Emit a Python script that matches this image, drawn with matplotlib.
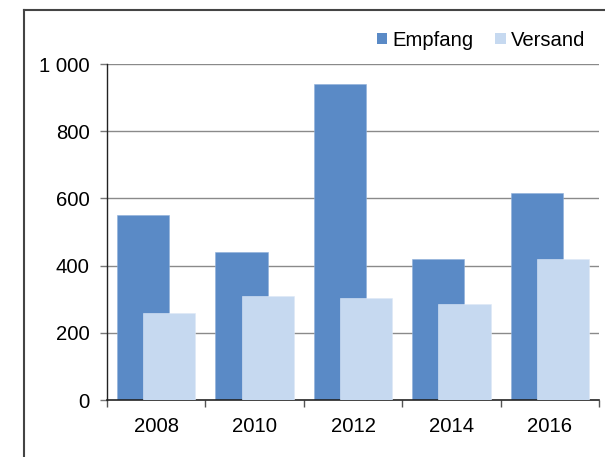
import matplotlib
matplotlib.use("Agg")
import matplotlib.pyplot as plt
from matplotlib.patches import Patch
from matplotlib.lines import Line2D
import numpy as np

years = ["2008", "2010", "2012", "2014", "2016"]
empfang = [550, 440, 940, 420, 615]
versand = [260, 310, 305, 285, 420]
series_names = ["Empfang", "Versand"]
yticks = [0, 200, 400, 600, 800, 1000]
ytick_labels = ["0", "200", "400", "600", "800", "1 000"]

c_emp = "#5A8AC6"
c_ver = "#C6D9F0"

plt.rcParams["font.family"] = ["Liberation Sans", "DejaVu Sans"]
fs = 14.6

fig = plt.figure(figsize=(6.05, 4.57), dpi=100)
ax = fig.add_axes([107/605, (457-400)/457, (599-107)/605, (400-64)/457])

x = np.arange(len(years))
w = 0.53
off = 0.133
ax.bar(x - off, empfang, width=w, color=c_emp, edgecolor="#8FB0DA", linewidth=0.4, zorder=2)
ax.bar(x + off, versand, width=w, color=c_ver, edgecolor="#DDE8F6", linewidth=0.4, zorder=3)

ax.set_xlim(-0.5, len(years) - 0.5)
ax.set_ylim(0, 1000)
ax.set_yticks(yticks)
ax.set_yticklabels(ytick_labels, fontsize=fs)
ax.set_xticks(x)
ax.set_xticklabels(years, fontsize=fs)
ax.set_xticks(np.arange(len(years) + 1) - 0.5, minor=True)
ax.tick_params(axis="x", which="major", length=0, pad=12.5)
ax.tick_params(axis="x", which="minor", length=5, width=1, color="#555555", direction="out")
ax.tick_params(axis="y", length=5, width=1, color="#777777", direction="out", pad=7.5)

for yv in yticks[1:]:
    ax.axhline(yv, color="#8A8A8A", linewidth=1.0, zorder=1)

for s in ["top", "right"]:
    ax.spines[s].set_visible(False)
ax.spines["left"].set_color("#222222")
ax.spines["left"].set_linewidth(1.0)
ax.spines["bottom"].set_color("#222222")
ax.spines["bottom"].set_linewidth(1.2)

handles = [Patch(facecolor=c_emp, edgecolor="none"), Patch(facecolor=c_ver, edgecolor="none")]
fig.legend(handles, series_names, loc="center right",
           bbox_to_anchor=(585/605, (457-40)/457), bbox_transform=fig.transFigure,
           ncol=2, frameon=False, fontsize=fs, borderpad=0, borderaxespad=0,
           handlelength=0.5, handleheight=0.5, handletextpad=0.25, columnspacing=1.1)

# outer frame (left and top edges visible)
fig.add_artist(Line2D([24/605, 24/605], [0, (457-10)/457], transform=fig.transFigure,
                      color="#444444", linewidth=1.5))
fig.add_artist(Line2D([24/605, 1.0], [(457-10)/457, (457-10)/457], transform=fig.transFigure,
                      color="#444444", linewidth=1.5))

fig.savefig("out.png", dpi=100)
